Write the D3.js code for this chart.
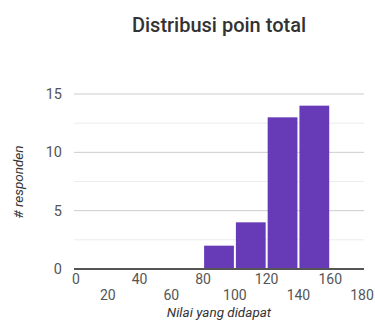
<!DOCTYPE html>
<html>
<head>
<meta charset="utf-8">
<script src="https://cdn.jsdelivr.net/npm/d3@7"></script>
<style>
  html, body { margin: 0; padding: 0; background: #fff; }
  svg { display: block; font-family: Roboto, "Noto Sans", sans-serif; }
</style>
</head>
<body>
<svg id="chart" width="375" height="321"></svg>
<script>
// Histogram buckets: [start, end) of score range and number of respondents
const bucketStart = [80, 100, 120, 140];
const bucketEnd   = [100, 120, 140, 160];
const counts      = [2, 4, 13, 14];

const xTicks      = [0, 20, 40, 60, 80, 100, 120, 140, 160, 180];
const yMajorTicks = [0, 5, 10, 15];
const yMinorTicks = [2.5, 7.5, 12.5];

const titleText = "Distribusi poin total";
const xTitle    = "Nilai yang didapat";
const yTitle    = "# responden";

const svg = d3.select("#chart");

const x = d3.scaleLinear().domain([0, 180]).range([76, 362]);
const y = d3.scaleLinear().domain([0, 15]).range([269, 94]);

// minor gridlines
svg.append("g").selectAll("line").data(yMinorTicks).join("line")
  .attr("x1", 74).attr("x2", 364)
  .attr("y1", d => y(d)).attr("y2", d => y(d))
  .attr("stroke", "#ececec").attr("stroke-width", 1);

// major gridlines
svg.append("g").selectAll("line").data(yMajorTicks.filter(d => d > 0)).join("line")
  .attr("x1", 74).attr("x2", 364)
  .attr("y1", d => y(d)).attr("y2", d => y(d))
  .attr("stroke", "#cccccc").attr("stroke-width", 1);

// bars
svg.append("g").selectAll("rect").data(counts).join("rect")
  .attr("x", (d, i) => x(bucketStart[i]) + 1)
  .attr("width", (d, i) => x(bucketEnd[i]) - x(bucketStart[i]) - 2)
  .attr("y", d => y(d))
  .attr("height", d => y(0) - y(d))
  .attr("fill", "#673ab7");

// baseline
svg.append("line")
  .attr("x1", 74).attr("x2", 364)
  .attr("y1", y(0)).attr("y2", y(0))
  .attr("stroke", "#555").attr("stroke-width", 2);

// y tick labels
svg.append("g").selectAll("text").data(yMajorTicks).join("text")
  .attr("x", 62).attr("y", d => y(d) + 5)
  .attr("text-anchor", "end")
  .attr("font-size", 14.5).attr("fill", "#555")
  .text(d => d);

// x tick labels, alternating between two rows
svg.append("g").selectAll("text").data(xTicks).join("text")
  .attr("x", d => x(d))
  .attr("y", (d, i) => i % 2 === 0 ? 284 : 300)
  .attr("text-anchor", "middle")
  .attr("font-size", 14).attr("fill", "#555")
  .text(d => d);

// title
svg.append("text")
  .attr("x", 219).attr("y", 32)
  .attr("text-anchor", "middle")
  .attr("font-size", 20).attr("font-weight", 500).attr("fill", "#333")
  .text(titleText);

// axis titles
svg.append("text")
  .attr("x", 219).attr("y", 317)
  .attr("text-anchor", "middle")
  .attr("font-size", 13.5).attr("font-style", "italic").attr("fill", "#333")
  .text(xTitle);

svg.append("text")
  .attr("transform", "translate(23,182) rotate(-90)")
  .attr("text-anchor", "middle")
  .attr("font-size", 13.5).attr("font-style", "italic").attr("fill", "#333")
  .text(yTitle);
</script>
</body>
</html>
